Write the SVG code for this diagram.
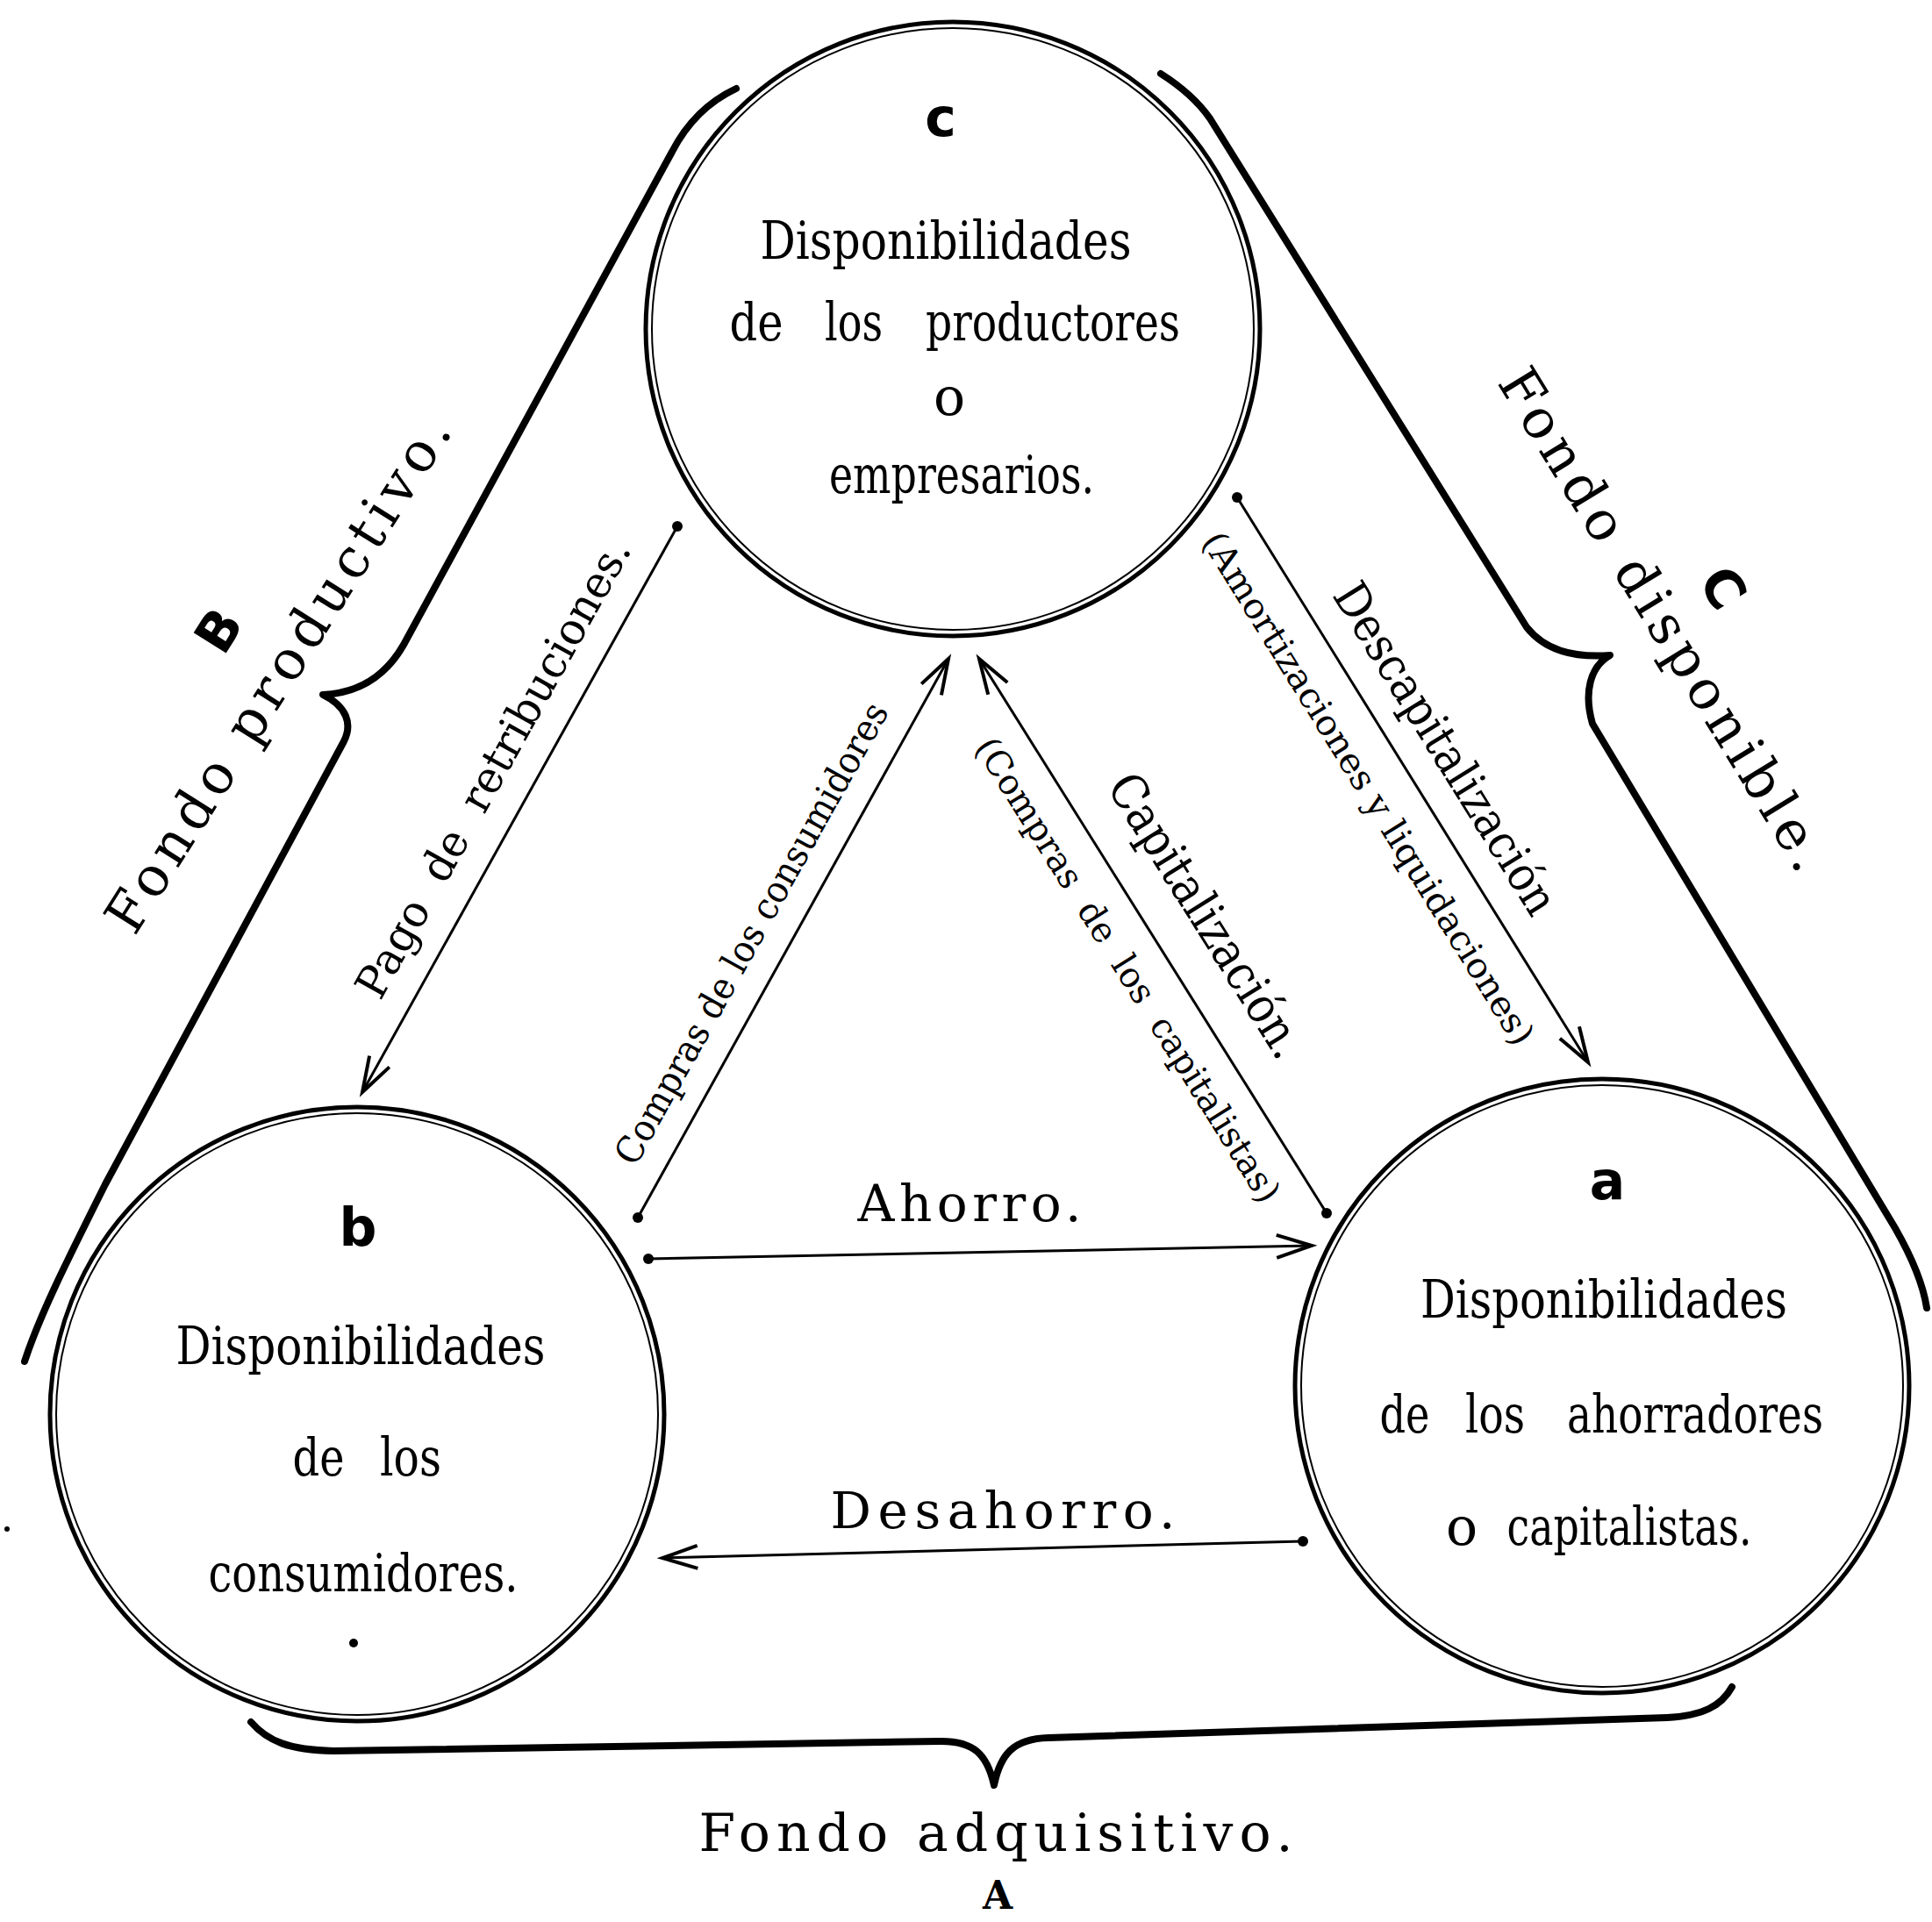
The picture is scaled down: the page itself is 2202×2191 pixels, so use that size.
<svg xmlns="http://www.w3.org/2000/svg" width="2202" height="2191" viewBox="0 0 2202 2191">
<defs>
<style>
.ring{fill:none;stroke:#000;stroke-width:5}
.ring2{fill:none;stroke:#000;stroke-width:2}
.t{font-family:"DejaVu Serif","Liberation Serif",serif;font-size:60px;fill:#000;text-anchor:middle}
.lab{font-family:"DejaVu Serif","Liberation Serif",serif;fill:#000;text-anchor:middle}
.let{font-family:"DejaVu Sans","Noto Sans",sans-serif;font-weight:bold;font-size:60px;fill:#000;text-anchor:middle}
.conn{stroke:#000;stroke-width:3;fill:none}
.dot{fill:#000}
.brace{stroke:#000;stroke-width:8;fill:none;stroke-linecap:round;stroke-linejoin:round}
</style>
<marker id="ah" markerUnits="userSpaceOnUse" viewBox="-50 -20 60 40" markerWidth="60" markerHeight="40" refX="0" refY="0" orient="auto">
<path d="M-40,-13 L0,0 L-40,13" fill="none" stroke="#000" stroke-width="4"/>
</marker>
</defs>
<rect x="0" y="0" width="2202" height="2191" fill="#fff"/>

<g id="node-c">
<circle class="ring" cx="1086" cy="375" r="350"/>
<circle class="ring2" cx="1086" cy="375" r="343"/>
<text class="let" x="1072" y="155">c</text>
<text class="t" x="1078" y="295" textLength="423" lengthAdjust="spacingAndGlyphs">Disponibilidades</text>
<text class="t" x="862" y="388" textLength="61" lengthAdjust="spacingAndGlyphs">de</text>
<text class="t" x="973" y="388" textLength="66" lengthAdjust="spacingAndGlyphs">los</text>
<text class="t" x="1200" y="388" textLength="290" lengthAdjust="spacingAndGlyphs">productores</text>
<text class="t" x="1082" y="473">o</text>
<text class="t" x="1096" y="562" textLength="302" lengthAdjust="spacingAndGlyphs">empresarios.</text>
</g>

<g id="node-b">
<circle class="ring" cx="407" cy="1612" r="350"/>
<circle class="ring2" cx="407" cy="1612" r="343"/>
<text class="let" x="408" y="1420">b</text>
<text class="t" x="411" y="1555" textLength="421" lengthAdjust="spacingAndGlyphs">Disponibilidades</text>
<text class="t" x="363" y="1682" textLength="59" lengthAdjust="spacingAndGlyphs">de</text>
<text class="t" x="468" y="1682" textLength="70" lengthAdjust="spacingAndGlyphs">los</text>
<text class="t" x="414" y="1814" textLength="353" lengthAdjust="spacingAndGlyphs">consumidores.</text>
<circle class="dot" cx="403" cy="1873" r="5"/>
</g>

<g id="node-a">
<circle class="ring" cx="1826" cy="1580" r="350"/>
<circle class="ring2" cx="1826" cy="1580" r="343"/>
<text class="let" x="1832" y="1367">a</text>
<text class="t" x="1828" y="1502" textLength="418" lengthAdjust="spacingAndGlyphs">Disponibilidades</text>
<text class="t" x="1601" y="1633" textLength="57" lengthAdjust="spacingAndGlyphs">de</text>
<text class="t" x="1704" y="1633" textLength="68" lengthAdjust="spacingAndGlyphs">los</text>
<text class="t" x="1932" y="1633" textLength="292" lengthAdjust="spacingAndGlyphs">ahorradores</text>
<text class="t" x="1666" y="1761">o</text>
<text class="t" x="1857" y="1761" textLength="279" lengthAdjust="spacingAndGlyphs">capitalistas.</text>
</g>

<g id="connectors">
<line class="conn" x1="772" y1="600" x2="413" y2="1245" marker-end="url(#ah)"/>
<circle class="dot" cx="772" cy="600" r="6"/>
<line class="conn" x1="727" y1="1388" x2="1081" y2="751" marker-end="url(#ah)"/>
<circle class="dot" cx="727" cy="1388" r="6"/>
<line class="conn" x1="1512" y1="1383" x2="1116" y2="751" marker-end="url(#ah)"/>
<circle class="dot" cx="1512" cy="1383" r="6"/>
<line class="conn" x1="1410" y1="567" x2="1810" y2="1211" marker-end="url(#ah)"/>
<circle class="dot" cx="1410" cy="567" r="6"/>
<line class="conn" x1="739" y1="1435" x2="1495" y2="1420" marker-end="url(#ah)"/>
<circle class="dot" cx="739" cy="1435" r="6"/>
<line class="conn" x1="1485" y1="1757" x2="755" y2="1776" marker-end="url(#ah)"/>
<circle class="dot" cx="1485" cy="1757" r="6"/>

<text class="lab" xml:space="preserve" font-size="50" transform="translate(577,884) rotate(-60.9)" textLength="590" lengthAdjust="spacingAndGlyphs">Pago  de  retribuciones.</text>
<text class="lab" font-size="42" transform="translate(869,1071) rotate(-60.9)" textLength="595" lengthAdjust="spacingAndGlyphs">Compras de los consumidores</text>
<text class="lab" font-size="56" transform="translate(1359,1054) rotate(57.9)" textLength="371" lengthAdjust="spacingAndGlyphs">Capitalización.</text>
<text class="lab" xml:space="preserve" font-size="40" transform="translate(1274,1113) rotate(57.9)" textLength="617" lengthAdjust="spacingAndGlyphs">(Compras  de  los  capitalistas)</text>
<text class="lab" font-size="54" transform="translate(1632,863) rotate(58.2)" textLength="434" lengthAdjust="spacingAndGlyphs">Descapitalización</text>
<text class="lab" font-size="40" transform="translate(1548,906) rotate(58.2)" textLength="680" lengthAdjust="spacingAndGlyphs">(Amortizaciones y liquidaciones)</text>
<text class="lab" font-size="58" x="1105" y="1392" textLength="255" lengthAdjust="spacing">Ahorro.</text>
<text class="lab" font-size="58" x="1143" y="1742" textLength="393" lengthAdjust="spacing">Desahorro.</text>
</g>

<g id="brace-B">
<path class="brace" d="M839,101 C805,117 782,142 766,173 L460,735 C440,770 410,790 368,792 C395,805 402,825 392,845 L120,1350 C75,1440 45,1500 28,1552"/>
<text class="lab" font-size="62" transform="translate(335,780) rotate(-57.8)" textLength="681" lengthAdjust="spacing">Fondo productivo.</text>
<text class="let" transform="translate(267,730) rotate(-57.8)">B</text>
</g>

<g id="brace-C">
<path class="brace" d="M1323,84 C1345,98 1365,115 1379,135 L1740,715 C1760,740 1790,750 1835,747 C1812,760 1805,790 1815,825 L2160,1400 C2180,1435 2192,1465 2196,1491"/>
<text class="lab" font-size="62" transform="translate(1878,717) rotate(58.5)" textLength="659" lengthAdjust="spacing">Fondo disponible.</text>
<text class="let" transform="translate(1946,681) rotate(58.5)">C</text>
</g>

<g id="brace-A">
<path class="brace" d="M286,1963 C305,1985 330,1995 380,1996 L1070,1985 C1110,1984 1125,2000 1133,2035 C1140,2000 1155,1982 1195,1981 L1900,1958 C1940,1956 1962,1945 1974,1923"/>
<text class="lab" font-size="60" x="1135" y="2110" textLength="677" lengthAdjust="spacing">Fondo adquisitivo.</text>
<text class="lab" font-size="44" font-weight="bold" x="1137" y="2176">A</text>
</g>
<circle class="dot" cx="8" cy="1743" r="3"/>
</svg>
